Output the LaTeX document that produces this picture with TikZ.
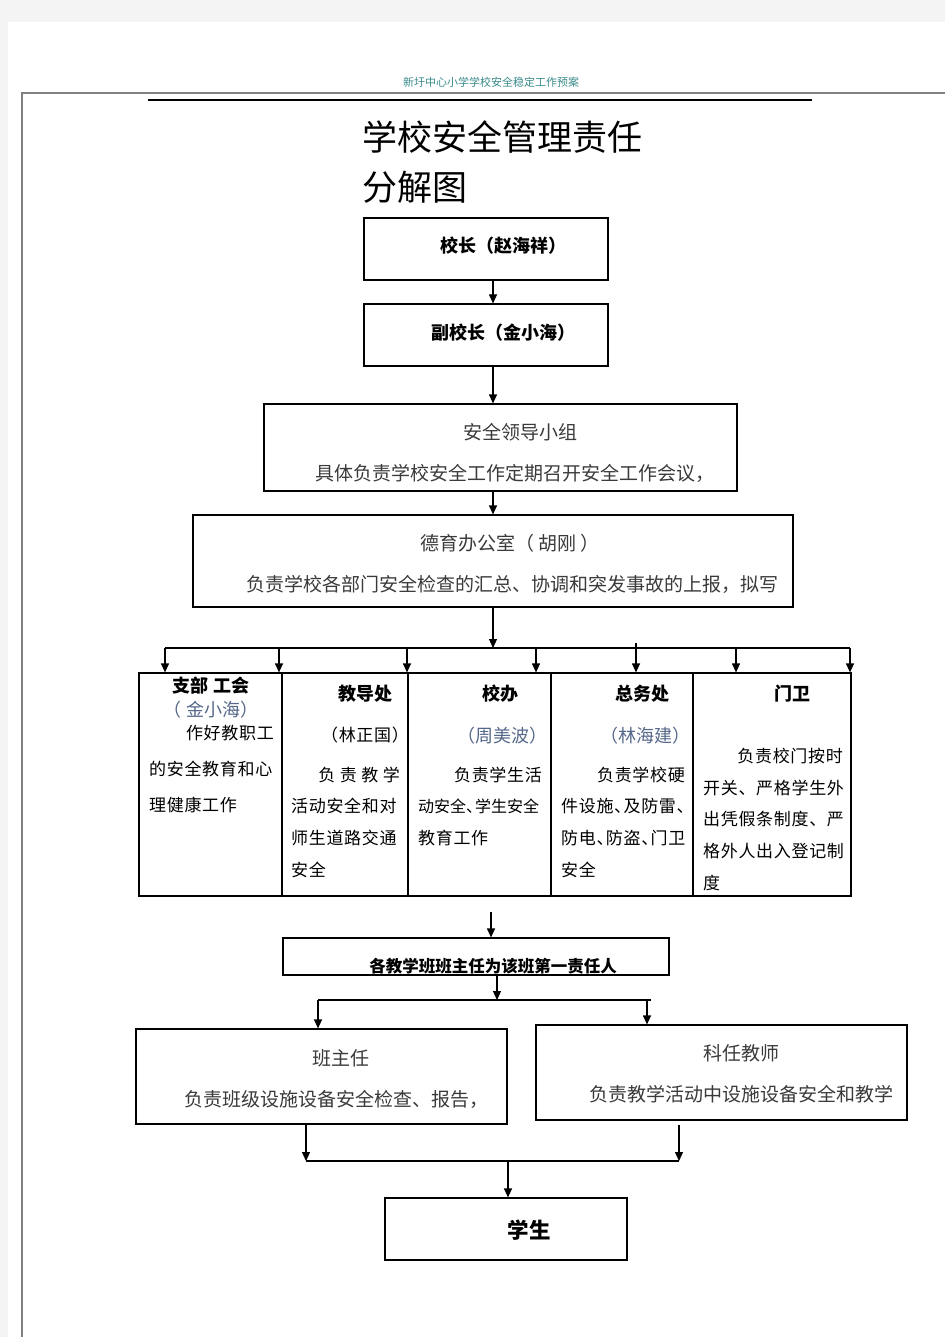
\documentclass[tikz,border=0pt]{standalone}
\usepackage{fontspec}
\setmainfont{Noto Sans CJK SC}
\usetikzlibrary{arrows.meta}
\definecolor{headteal}{HTML}{3A8A8A}
\definecolor{namegray}{HTML}{56688A}
\definecolor{txtgray}{HTML}{3A3A3A}
\definecolor{pagegray}{HTML}{F4F4F4}
\newcommand{\dun}{、\kern-.45em}
\newcommand{\fsz}[1]{\fontsize{#1}{#1}\selectfont}

\begin{document}
\begin{tikzpicture}[x=1pt,y=-1pt,
  box/.style={draw,line width=1.2pt,inner sep=0pt},
  txt/.style={inner sep=0pt,text=txtgray,font=\fsz{19}},
  hd/.style={inner sep=0pt,font=\fsz{18}\bfseries},
  col/.style={inner sep=0pt,font=\fsz{17}\addfontfeature{LetterSpace=4}},
  nm/.style={inner sep=0pt,text=namegray,font=\fsz{18}},
  arr/.style={line width=1.2pt,-{Triangle[length=9pt,width=8pt]}}]

% Page
\useasboundingbox (0,0) rectangle (945,1337);
\fill[pagegray] (0,0) rectangle (945,1337);
\fill[white] (8,22) rectangle (945,1337);
\draw[gray,line width=2pt] (22,1337) -- (22,93) -- (945,93);
\draw[line width=1.4pt] (148,100) -- (812,100);

\node[inner sep=0pt,text=headteal,font=\fsz{11}] (hdr) at (491,82) {新圩中心小学学校安全稳定工作预案};
\node[inner sep=0pt,anchor=west,font=\fsz{35}] (title1) at (362,137) {学校安全管理责任};
\node[inner sep=0pt,anchor=west,font=\fsz{35}] (title2) at (362,187) {分解图};

% Define nodes

\node[box,minimum width=244,minimum height=62] (principal) at (486,249) {};
\node[box,minimum width=244,minimum height=62] (vice)      at (486,335) {};
\node[box,minimum width=473,minimum height=87] (group)     at (500.5,447.5) {};
\node[box,minimum width=600,minimum height=92] (moral)     at (493,561) {};

\node[box,minimum width=143,minimum height=223] (party)   at (210.5,784.5) {};
\node[box,minimum width=126,minimum height=223] (teach)   at (345,784.5) {};
\node[box,minimum width=143,minimum height=223] (office)  at (479.5,784.5) {};
\node[box,minimum width=142,minimum height=223] (general) at (622,784.5) {};
\node[box,minimum width=158,minimum height=223] (guard)   at (772,784.5) {};

\node[box,minimum width=386,minimum height=37] (head)    at (476,956.5) {};
\node[box,minimum width=371,minimum height=95] (banzhu)  at (321.5,1076.5) {};
\node[box,minimum width=371,minimum height=95] (keren)   at (721.5,1072.5) {};
\node[box,minimum width=242,minimum height=62] (student) at (506,1229) {};

% Texts of the boxes

\node[hd] (principaltxt) at (503,246) {校长（赵海祥）};
\node[hd] (vicetxt)      at (503,333) {副校长（金小海）};

\node[txt] (grouptxt)  at (520,432) {安全领导小组};
\node[txt] (groupduty) at (515,473) {具体负责学校安全工作定期召开安全工作会议，};
\node[txt] (moraltxt)  at (510,543) {德育办公室（ 胡刚 ）};
\node[txt] (moralduty) at (512,584) {负责学校各部门安全检查的汇总、协调和突发事故的上报，拟写};

\node[hd] (partytxt) at (211,686) {支部 工会};
\node[nm] (partynm)  at (211,710) {（ 金小海）};
\node[col,anchor=east] (party1) at (274,733) {作好教职工};
\node[col,anchor=west] (party2) at (149,769) {的安全教育和心};
\node[col,anchor=west] (party3) at (149,805) {理健康工作};

\node[hd] (teachtxt) at (365,694) {教导处};
\node[col] (teachnm) at (365,735) {（林正国）};
\node[col,anchor=east] (teach1) at (400,775) {负 责 教 学};
\node[col,anchor=west] (teach2) at (291,806) {活动安全和对};
\node[col,anchor=west] (teach3) at (291,838) {师生道路交通};
\node[col,anchor=west] (teach4) at (291,870) {安全};

\node[hd] (officetxt) at (500,694) {校办};
\node[nm] (officenm)  at (502,736) {（周美波）};
\node[col,anchor=east] (office1) at (542,775) {负责学生活};
\node[col,anchor=west,font=\fsz{16}] (office2) at (418,806) {动安全\dun 学生安全};
\node[col,anchor=west] (office3) at (418,838) {教育工作};

\node[hd] (generaltxt) at (642,694) {总务处};
\node[nm] (generalnm)  at (645,736) {（林海建）};
\node[col,anchor=east] (general1) at (685,775) {负责学校硬};
\node[col,anchor=west] (general2) at (561,806) {件设施\dun 及防雷、};
\node[col,anchor=west] (general3) at (561,838) {防电\dun 防盗\dun 门卫};
\node[col,anchor=west] (general4) at (561,870) {安全};

\node[hd] (guardtxt) at (792,694) {门卫};
\node[col,anchor=east] (guard1) at (843,756) {负责校门按时};
\node[col,anchor=west] (guard2) at (703,788) {开关、严格学生外};
\node[col,anchor=west] (guard3) at (703,819) {出凭假条制度、严};
\node[col,anchor=west] (guard4) at (703,851) {格外人出入登记制};
\node[col,anchor=west] (guard5) at (703,883) {度};

\node[inner sep=0pt,font=\fsz{16.5}\bfseries] (headtxt) at (493,966) {各教学班班主任为该班第一责任人};

\node[txt] (banzhutxt)  at (341,1058) {班主任};
\node[txt] (banzhuduty) at (336,1099) {负责班级设施设备安全检查、报告，};
\node[txt] (kerentxt)   at (741,1053) {科任教师};
\node[txt] (kerenduty)  at (741,1094) {负责教学活动中设施设备安全和教学};
\node[inner sep=0pt,font=\fsz{21.5}\bfseries] (studenttxt) at (529,1230) {学生};

% Connect the nodes

\draw[arr] ([xshift=7]principal.south) -- ([xshift=7]vice.north);
\draw[arr] ([xshift=7]vice.south) -- ([xshift=7]vice.south |- group.north);
\draw[arr] ([xshift=-7.5]group.south) -- ([xshift=-7.5]group.south |- moral.north);

\coordinate (bus)  at (493,648);
\coordinate (busL) at (165,648);
\coordinate (busR) at (850,648);
\draw[arr] (moral.south) -- (bus);
\draw[line width=1.2pt] (busL) -- (busR);
\foreach \x in {165,279,407,536,736,850} {
  \coordinate (drop) at (\x,648);
  \draw[arr] (drop) -- (drop |- party.north);
}
\coordinate (tick) at (636,643);
\draw[arr] (tick) -- (tick |- general.north);

\coordinate (gap) at (491,912);
\draw[arr] (gap) -- (gap |- head.north);

\coordinate (fork)  at (497,1000);
\coordinate (forkL) at (318,1000);
\coordinate (forkK) at (647,1000);
\coordinate (forkR) at (651,1000);
\draw[arr] (fork |- head.south) -- (fork);
\draw[line width=1.2pt] (forkL) -- (forkR);
\draw[arr] (forkL) -- (forkL |- banzhu.north);
\draw[arr] (forkK) -- (forkK |- keren.north);

\coordinate (joinL) at (306,1161);
\coordinate (joinR) at (679,1161);
\coordinate (joinM) at (508,1161);
\draw[arr] (joinL |- banzhu.south) -- (joinL);
\draw[arr] (joinR |- banzhu.south) -- (joinR);
\draw[line width=1.2pt] (joinL) -- (joinR);
\draw[arr] (joinM) -- (joinM |- student.north);

\end{tikzpicture}
\end{document}
